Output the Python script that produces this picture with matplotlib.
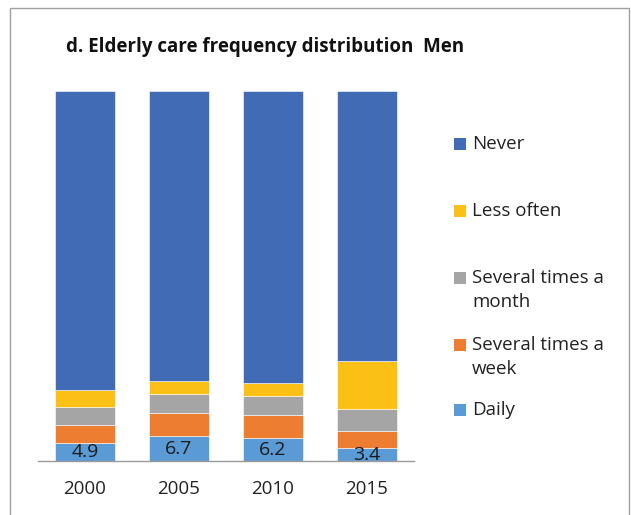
import matplotlib.pyplot as plt
from matplotlib.patches import Rectangle
import numpy as np

plt.rcParams['font.family'] = ['Open Sans', 'DejaVu Sans']

years = ["2000", "2005", "2010", "2015"]
categories = ["Daily", "Several times a\nweek", "Several times a\nmonth", "Less often", "Never"]
colors = ["#5B9BD5", "#ED7D31", "#A5A5A5", "#FAC016", "#416BB5"]

daily = [4.9, 6.7, 6.2, 3.4]
week = [4.9, 6.2, 6.1, 4.6]
month = [4.9, 5.1, 5.2, 6.1]
less_often = [4.5, 3.5, 3.6, 12.8]
never = [100 - sum(v) for v in zip(daily, week, month, less_often)]
series = [daily, week, month, less_often, never]

W, H = 631, 515
fig = plt.figure(figsize=(W / 100, H / 100), dpi=100)
ax = fig.add_axes([38 / W, 54 / H, 376 / W, 370 / H])

x = np.arange(len(years))
bottom = np.zeros(len(years))
for vals, col in zip(series, colors):
    ax.bar(x, vals, width=0.64, bottom=bottom, color=col, edgecolor="white", linewidth=0.4)
    bottom += np.array(vals)

# value labels on the daily segment
for xi, v in zip(x, daily):
    ax.text(xi, v / 2, f"{v}", ha="center", va="center", fontsize=14, color="#1a1a1a")

ax.set_xlim(-0.5, 3.5)
ax.set_ylim(0, 100)
ax.set_xticks(x)
ax.set_xticklabels(years, fontsize=13.5, color="#222222")
ax.tick_params(axis="x", length=0, pad=14)
ax.set_yticks([])
for s in ["left", "right", "top"]:
    ax.spines[s].set_visible(False)
ax.spines["bottom"].set_color("#9a9a9a")
ax.spines["bottom"].set_linewidth(1.0)

fig.text(265 / W, 1 - 47 / H, "d. Elderly care frequency distribution  Men",
         ha="center", va="center", fontsize=13.5, fontweight="bold", color="#111111")

# legend, top entry first
leg_y = [144, 211, 278, 345, 410]
for lbl, col, yy in zip(categories[::-1], colors[::-1], leg_y):
    fig.add_artist(Rectangle((454 / W, 1 - (yy + 6) / H), 12 / W, 12 / H,
                             transform=fig.transFigure, facecolor=col, edgecolor="none"))
    fig.text(472 / W, 1 - (yy - 9) / H, lbl, ha="left", va="top", fontsize=13.5,
             color="#222222", linespacing=1.45)

# outer chart frame
fig.add_artist(Rectangle((10 / W, -0.1), 619 / W, 0.1 + (H - 7.5) / H,
                         transform=fig.transFigure, fill=False, edgecolor="#a0a0a0", linewidth=1))

fig.savefig("out.png", dpi=100)
